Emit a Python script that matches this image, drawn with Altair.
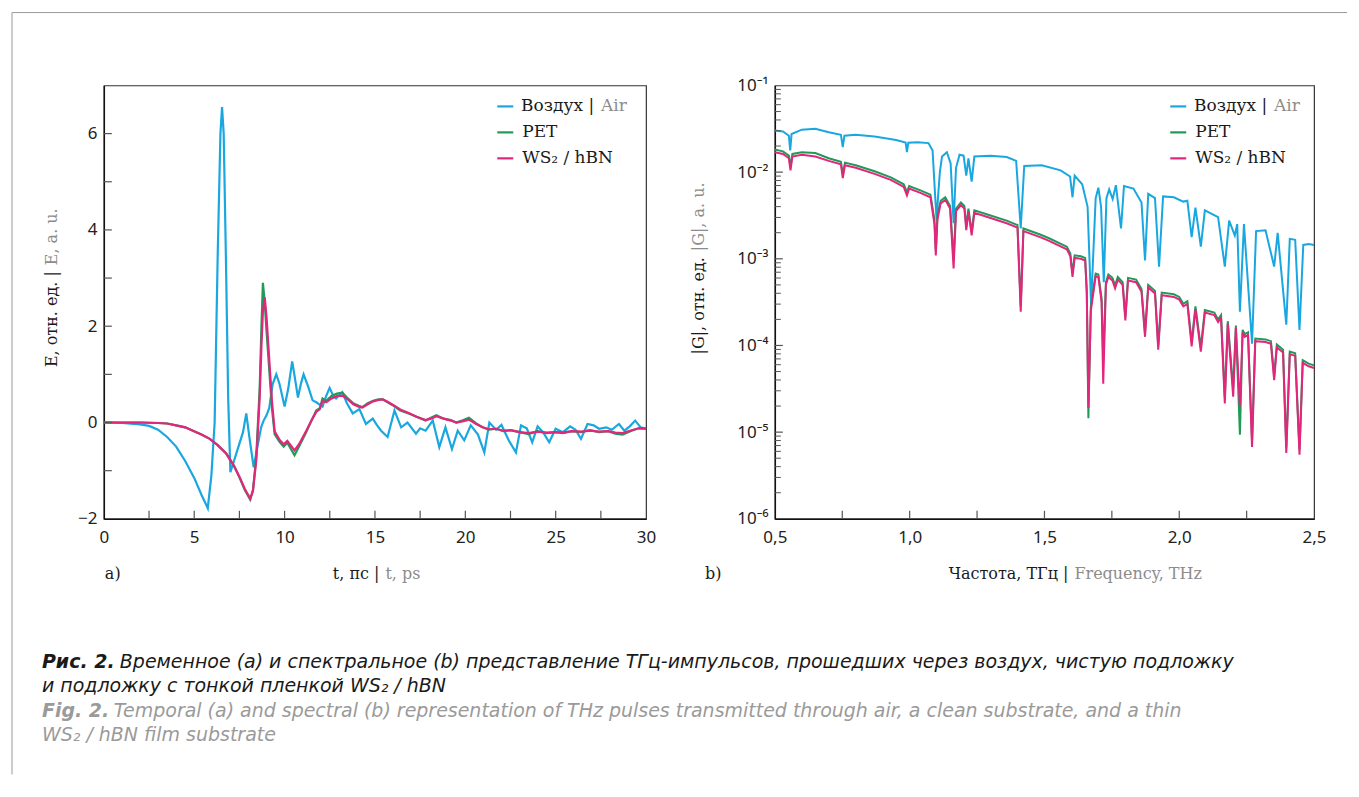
import altair as alt
import pandas as pd
import numpy as np

# ---------------- data ----------------
air_t = [0, 1, 2, 2.5, 3, 3.5, 4, 4.5, 5, 5.4, 5.75, 5.95, 6.13, 6.3, 6.45, 6.54, 6.63, 6.75, 6.88, 7.0,
         7.2, 7.5, 7.7, 7.88, 8.05, 8.29, 8.5, 8.7, 8.84, 9.0, 9.15, 9.34, 9.54, 9.72, 10.0, 10.2, 10.42, 10.58, 10.74, 10.9,
         11.05, 11.3, 11.55, 11.75, 12.1, 12.3, 12.49, 12.7, 12.85, 13.19, 13.45, 13.77, 14.14, 14.5, 14.88, 15.1, 15.34, 15.7, 16.08, 16.45,
         16.8, 17.27, 17.5, 17.8, 18.2, 18.56, 18.9, 19.26, 19.58, 19.94, 20.3, 20.7, 21.05, 21.33, 21.7, 22.0, 22.4, 22.8, 23.08, 23.4,
         23.7, 24.0, 24.3, 24.64, 25.0, 25.4, 25.8, 26.1, 26.4, 26.76, 27.1, 27.4, 27.8, 28.1, 28.5, 28.8, 29.1, 29.4, 29.7, 30]
air_E = [0, -0.01, -0.04, -0.07, -0.15, -0.3, -0.5, -0.8, -1.15, -1.5, -1.78, -1.1, 0.0, 3.5, 6.0, 6.55, 6.0, 3.5, 0.5, -1.03,
         -0.8, -0.44, -0.2, 0.19, -0.3, -0.93, -0.5, -0.1, 0.04, 0.15, 0.3, 0.8, 1.0, 0.8, 0.33, 0.7, 1.27, 0.9, 0.52, 0.8,
         1.0, 0.75, 0.46, 0.42, 0.33, 0.55, 0.72, 0.55, 0.5, 0.63, 0.4, 0.19, 0.28, -0.03, 0.08, -0.05, -0.17, -0.3, 0.25, -0.1,
         0.0, -0.23, -0.12, -0.17, 0.04, -0.51, -0.1, -0.55, -0.17, -0.37, -0.06, -0.25, -0.62, 0.0, -0.15, -0.05, -0.37, -0.62, -0.06, -0.12,
         -0.41, -0.08, -0.2, -0.41, -0.13, -0.2, -0.08, -0.15, -0.34, -0.03, -0.06, -0.13, -0.1, -0.15, -0.03, -0.17, -0.08, 0.04, -0.1, -0.13]

sub_t = [0, 1, 2, 3, 3.5, 4, 4.5, 4.93, 5.4, 5.86, 6.3, 6.78, 7.2, 7.51, 7.8, 8.1, 8.25, 8.43, 8.62, 8.72,
         8.8, 8.9, 9.0, 9.17, 9.3, 9.45, 9.72, 9.95, 10.15, 10.35, 10.55, 10.8, 11.2, 11.5, 11.75, 11.95, 12.1, 12.3, 12.6, 12.9,
         13.2, 13.5, 13.8, 14.1, 14.3, 14.6, 14.9, 15.2, 15.43, 15.7, 15.98, 16.4, 16.9, 17.3, 17.8, 18.1, 18.4, 18.8, 19.2, 19.5,
         19.9, 20.2, 20.6, 20.96, 21.3, 21.7, 22.1, 22.5, 23.0, 23.5, 24.0, 24.5, 25.0, 25.4, 25.9, 26.4, 26.9, 27.4, 27.9, 28.3,
         28.7, 29.2, 29.6, 30]
pet_E = [0, 0, 0, -0.01, -0.02, -0.06, -0.1, -0.17, -0.25, -0.34,
         -0.47, -0.65, -0.9, -1.15, -1.4, -1.6, -1.4, -0.72, 0.7, 2.0,
         2.9, 2.5, 1.9, 1.0, 0.3, -0.24, -0.4, -0.5, -0.42, -0.55,
         -0.68, -0.5, -0.2, 0.05, 0.25, 0.3, 0.5, 0.45, 0.55, 0.6,
         0.62, 0.5, 0.4, 0.35, 0.32, 0.4, 0.45, 0.48, 0.48, 0.42,
         0.36, 0.25, 0.18, 0.12, 0.04, 0.1, 0.15, 0.08, 0.05, 0.0,
         0.05, 0.1, -0.02, -0.1, -0.15, -0.13, -0.18, -0.16, -0.2, -0.24,
         -0.18, -0.22, -0.2, -0.22, -0.18, -0.2, -0.16, -0.2, -0.18, -0.23,
         -0.25, -0.17, -0.12, -0.13]
ws2_E = [0, 0, 0, -0.01, -0.02, -0.06, -0.1, -0.17, -0.25, -0.34,
         -0.47, -0.65, -0.9, -1.13, -1.38, -1.58, -1.42, -0.8, 0.5, 1.6,
         2.3, 2.6, 2.2, 1.2, 0.45, -0.18, -0.36, -0.45, -0.38, -0.48,
         -0.58, -0.45, -0.17, 0.05, 0.22, 0.28, 0.45, 0.42, 0.5, 0.55,
         0.56, 0.48, 0.38, 0.33, 0.31, 0.38, 0.44, 0.47, 0.48, 0.43,
         0.37, 0.27, 0.19, 0.12, 0.05, 0.08, 0.13, 0.08, 0.04, 0.0,
         0.03, 0.06, -0.03, -0.1, -0.14, -0.13, -0.17, -0.16, -0.2, -0.22,
         -0.19, -0.21, -0.2, -0.21, -0.18, -0.19, -0.17, -0.19, -0.18, -0.21,
         -0.22, -0.16, -0.12, -0.12]

# spectra: frequency (THz) and log10 |G|
air_f = [0.50, 0.53, 0.552, 0.557, 0.562, 0.60, 0.65, 0.70, 0.745, 0.752, 0.758, 0.80, 0.87, 0.95, 0.985, 0.99, 0.995, 1.03, 1.07, 1.085,
         1.095, 1.10, 1.105, 1.112, 1.12, 1.138, 1.152, 1.163, 1.172, 1.185, 1.20, 1.21, 1.218, 1.23, 1.24, 1.30, 1.36, 1.395, 1.412, 1.425,
         1.49, 1.56, 1.595, 1.604, 1.612, 1.64, 1.66, 1.673, 1.69, 1.70, 1.71, 1.72, 1.73, 1.74, 1.753, 1.765, 1.784, 1.795, 1.83, 1.86,
         1.873, 1.885, 1.91, 1.925, 1.94, 1.98, 2.015, 2.03, 2.046, 2.06, 2.08, 2.095, 2.144, 2.169, 2.185, 2.206, 2.215, 2.225, 2.24, 2.27,
         2.285, 2.32, 2.352, 2.365, 2.397, 2.41, 2.43, 2.446, 2.46, 2.48, 2.50]
air_lg = [-1.52, -1.53, -1.58, -1.75, -1.56, -1.51, -1.50, -1.54, -1.57, -1.71, -1.58, -1.57, -1.59, -1.63, -1.66, -1.77, -1.66, -1.655, -1.665, -1.75,
          -2.3, -2.55, -2.3, -2.0, -1.82, -1.77, -1.9, -2.59, -1.95, -1.80, -1.81, -2.04, -1.84, -2.11, -1.82, -1.81, -1.826, -1.87, -2.65, -1.93,
          -1.92, -1.98, -2.05, -2.29, -2.04, -2.14, -2.4, -3.53, -2.3, -2.18, -2.4, -3.27, -2.3, -2.2, -2.31, -2.15, -2.65, -2.16, -2.19, -2.35,
          -3.02, -2.25, -2.3, -3.09, -2.28, -2.29, -2.34, -2.33, -2.75, -2.41, -2.86, -2.44, -2.52, -3.09, -2.56, -2.73, -2.6, -3.61, -2.6, -3.98,
          -2.68, -2.67, -3.09, -2.70, -3.76, -2.77, -2.78, -3.82, -2.84, -2.83, -2.84]

sub_f = [0.50, 0.53, 0.552, 0.558, 0.565, 0.60, 0.65, 0.70, 0.745, 0.752, 0.76, 0.80, 0.87, 0.93, 0.978, 0.99, 0.998, 1.04, 1.077, 1.092,
         1.097, 1.103, 1.115, 1.132, 1.15, 1.163, 1.172, 1.19, 1.203, 1.21, 1.218, 1.23, 1.24, 1.30, 1.36, 1.40, 1.412, 1.422, 1.484, 1.515,
         1.583, 1.596, 1.604, 1.612, 1.635, 1.651, 1.657, 1.663, 1.672, 1.69, 1.70, 1.712, 1.718, 1.728, 1.737, 1.752, 1.762, 1.772, 1.79, 1.80,
         1.81, 1.84, 1.86, 1.873, 1.885, 1.91, 1.922, 1.935, 1.98, 2.00, 2.015, 2.03, 2.046, 2.06, 2.08, 2.095, 2.13, 2.144, 2.155, 2.169,
         2.18, 2.20, 2.21, 2.225, 2.235, 2.243, 2.255, 2.27, 2.282, 2.32, 2.34, 2.352, 2.362, 2.385, 2.397, 2.41, 2.43, 2.446, 2.458, 2.48,
         2.50]
ws2_lg = [-1.77, -1.79, -1.84, -1.98, -1.82, -1.80, -1.82, -1.87, -1.91, -2.07, -1.92, -1.95, -2.02, -2.09, -2.17, -2.27, -2.19, -2.24, -2.29, -2.60,
          -2.96, -2.55, -2.36, -2.32, -2.42, -3.11, -2.45, -2.38, -2.42, -2.67, -2.45, -2.73, -2.47, -2.53, -2.59, -2.64, -3.61, -2.68, -2.75, -2.79,
          -2.89, -2.97, -3.21, -2.99, -3.00, -3.02, -3.40, -4.72, -3.60, -3.20, -3.21, -3.50, -4.44, -3.30, -3.21, -3.25, -3.34, -3.24, -3.30, -3.71,
          -3.25, -3.27, -3.38, -3.90, -3.33, -3.40, -4.05, -3.42, -3.44, -3.47, -3.55, -3.52, -4.01, -3.58, -4.07, -3.62, -3.65, -3.73, -3.68, -4.67,
          -3.75, -4.59, -3.80, -4.70, -3.85, -3.90, -3.88, -5.17, -3.95, -3.96, -3.98, -4.40, -4.02, -4.08, -5.24, -4.10, -4.12, -5.26, -4.20, -4.24,
          -4.26]
pet_lg = [-1.74, -1.76, -1.81, -1.94, -1.79, -1.77, -1.78, -1.84, -1.88, -2.03, -1.89, -1.92, -1.99, -2.06, -2.14, -2.23, -2.16, -2.21, -2.26, -2.55,
          -2.90, -2.50, -2.33, -2.29, -2.39, -3.00, -2.42, -2.35, -2.39, -2.63, -2.42, -2.69, -2.44, -2.50, -2.56, -2.61, -3.55, -2.65, -2.72, -2.76,
          -2.86, -2.94, -3.17, -2.96, -2.97, -2.99, -3.36, -4.84, -3.55, -3.17, -3.18, -3.46, -4.16, -3.27, -3.18, -3.22, -3.31, -3.21, -3.27, -3.67,
          -3.22, -3.24, -3.35, -3.85, -3.30, -3.37, -4.00, -3.39, -3.41, -3.44, -3.52, -3.49, -3.96, -3.55, -4.02, -3.59, -3.62, -3.70, -3.65, -4.60,
          -3.72, -4.50, -3.77, -5.03, -3.82, -3.87, -3.85, -5.10, -3.92, -3.93, -3.95, -4.35, -3.99, -4.05, -5.18, -4.07, -4.09, -5.20, -4.17, -4.21,
          -4.23]

left_x_labels = [0, 5, 10, 15, 20, 25, 30]
left_x_ticks = [2.5, 5, 7.5, 10, 12.5, 15, 17.5, 20, 22.5, 25, 27.5]
left_y_labels = [-2, 0, 2, 4, 6]
left_y_ticks = [-1, 0, 1, 2, 3, 4, 5, 6]
right_x_labels = [0.5, 1.0, 1.5, 2.0, 2.5]
right_x_ticks = [0.75, 1.0, 1.25, 1.5, 1.75, 2.0, 2.25]
right_y_labels = [1e-6, 1e-5, 1e-4, 1e-3, 1e-2, 1e-1]
right_y_major = [1e-5, 1e-4, 1e-3, 1e-2]
right_y_minor = [m * 10.0 ** k for k in range(-6, -1) for m in range(2, 10)]

legend_labels = ["Воздух |", "Air", "PET", "WS₂ / hBN"]

# ---------------- styles ----------------
C_AIR, C_PET, C_WS2 = "#19a7e0", "#1f9a57", "#e2267b"
GRAY = "#8c8c8c"
INK = "#1a1a1a"
SERIF = "DejaVu Serif"
SANS = "Noto Sans"
CAP = "DejaVu Sans"
W1, W2, H = 543, 540, 434

air_df = pd.DataFrame({"x": air_t, "y": air_E})
pet_df = pd.DataFrame({"x": sub_t, "y": pet_E})
ws2_df = pd.DataFrame({"x": sub_t, "y": ws2_E})
sair_df = pd.DataFrame({"x": air_f, "y": 10.0 ** np.array(air_lg)})
spet_df = pd.DataFrame({"x": sub_f, "y": 10.0 ** np.array(pet_lg)})
sws2_df = pd.DataFrame({"x": sub_f, "y": 10.0 ** np.array(ws2_lg)})

one = pd.DataFrame({"s": [""]})


def txt(s, x, y, color=INK, size=16, font=SERIF, weight="normal", style="normal", angle=None, align="left"):
    kw = dict(align=align, baseline="middle", font=font, fontSize=size, color=color,
              fontWeight=weight, fontStyle=style)
    if angle is not None:
        kw["angle"] = angle
    return alt.Chart(pd.DataFrame({"s": [s]})).mark_text(**kw).encode(
        text="s:N", x=alt.value(x), y=alt.value(y))


def two_tone(prefix, suffix, jx, jy, size=16, vertical=False, gap=6):
    # black prefix ends at the junction, gray suffix starts just after it
    if vertical:
        return [txt(prefix, jx, jy, size=size, angle=270, align="right"),
                txt(suffix, jx, jy - gap, color=GRAY, size=size, angle=270, align="left")]
    return [txt(prefix, jx, jy, size=size, align="right"),
            txt(suffix, jx + gap, jy, color=GRAY, size=size, align="left")]


def legend(x0):
    layers = []
    rows = [(C_AIR, 21), (C_PET, 47), (C_WS2, 73)]
    for col, yy in rows:
        layers.append(alt.Chart(one).mark_rule(color=col, strokeWidth=2.2).encode(
            x=alt.value(x0), x2=alt.value(x0 + 16), y=alt.value(yy)))
    layers += two_tone(legend_labels[0], legend_labels[1], x0 + 25 + 72, 21, size=17, gap=7)
    layers.append(txt(legend_labels[2], x0 + 25, 47, size=17))
    layers.append(txt(legend_labels[3], x0 + 25, 73, size=17))
    return layers


axis_common = dict(ticks=False, grid=False, title=None, labelFont=SANS, labelFontSize=17,
                   labelColor="#222", domainColor="#111", domainWidth=1.4, labelFlush=False,
                   labelOverlap=False, labelBound=False)

# ---------------- left panel ----------------
XL = alt.X("x:Q", scale=alt.Scale(domain=[0, 30], nice=False, zero=False),
           axis=alt.Axis(values=left_x_labels, labelPadding=11, **axis_common))
YL = alt.Y("y:Q", scale=alt.Scale(domain=[-2, 7], nice=False, zero=False),
           axis=alt.Axis(values=left_y_labels, labelPadding=7, **axis_common))

left_layers = []
for df, col in [(air_df, C_AIR), (pet_df, C_PET), (ws2_df, C_WS2)]:
    left_layers.append(alt.Chart(df).mark_line(color=col, strokeWidth=2.2).encode(x=XL, y=YL))
left_layers.append(alt.Chart(pd.DataFrame({"y": left_y_ticks})).mark_rule(color="#555", strokeWidth=1.2).encode(
    y=YL, x=alt.value(0), x2=alt.value(8)))
left_layers.append(alt.Chart(pd.DataFrame({"x": left_x_ticks})).mark_rule(color="#555", strokeWidth=1.2).encode(
    x=XL, y=alt.value(H), y2=alt.value(H - 8)))
left_layers += legend(394)
left_layers += two_tone("t, пс |", "t, ps", 276, 489)
left_layers += two_tone("Е, отн. ед. |", "Е, a. u.", -52, 186, vertical=True)
left_layers.append(txt("a)", 1, 489))

# caption and frame (placed relative to the left panel)
CAPG = "#9a9a9a"
CS = 19
left_layers += [
    txt("Рис. 2.", -62, 577, size=CS, font=CAP, weight="bold", style="italic"),
    txt("Временное (a) и спектральное (b) представление ТГц-импульсов, прошедших через воздух, чистую подложку",
        16, 577, size=CS, font=CAP, style="italic"),
    txt("и подложку с тонкой пленкой WS₂ / hBN", -62, 601.5, size=CS, font=CAP, style="italic"),
    txt("Fig. 2.", -62, 626, color=CAPG, size=CS, font=CAP, weight="bold", style="italic"),
    txt("Temporal (a) and spectral (b) representation of THz pulses transmitted through air, a clean substrate, and a thin",
        10, 626, color=CAPG, size=CS, font=CAP, style="italic"),
    txt("WS₂ / hBN film substrate", -62, 650.5, color=CAPG, size=CS, font=CAP, style="italic"),
    alt.Chart(one).mark_rule(color="#9a9a9a", strokeWidth=1).encode(
        x=alt.value(-92), x2=alt.value(1245), y=alt.value(-73)),
    alt.Chart(one).mark_rule(color="#9a9a9a", strokeWidth=1).encode(
        x=alt.value(-92), y=alt.value(-73), y2=alt.value(690)),
]

left = alt.layer(*left_layers).properties(
    width=W1, height=H, view=alt.ViewBackground(stroke="#333", strokeWidth=1.2))

# ---------------- right panel ----------------
XR = alt.X("x:Q", scale=alt.Scale(domain=[0.5, 2.5], nice=False, zero=False),
           axis=alt.Axis(values=right_x_labels, labelPadding=11,
                         labelExpr="replace(format(datum.value, '.1f'), '.', ',')", **axis_common))
YR = alt.Y("y:Q", scale=alt.Scale(type="log", domain=[1e-6, 1e-1], nice=False),
           axis=alt.Axis(values=right_y_labels, labelPadding=7,
                         labelExpr="datum.value > 0.05 ? '10⁻¹' : datum.value > 0.005 ? '10⁻²' : "
                                   "datum.value > 0.0005 ? '10⁻³' : datum.value > 0.00005 ? '10⁻⁴' : "
                                   "datum.value > 0.000005 ? '10⁻⁵' : '10⁻⁶'",
                         **axis_common))

right_layers = []
for df, col in [(sair_df, C_AIR), (spet_df, C_PET), (sws2_df, C_WS2)]:
    right_layers.append(alt.Chart(df).mark_line(color=col, strokeWidth=2.0).encode(x=XR, y=YR))
right_layers.append(alt.Chart(pd.DataFrame({"y": right_y_major})).mark_rule(color="#555", strokeWidth=1.2).encode(
    y=YR, x=alt.value(0), x2=alt.value(8)))
right_layers.append(alt.Chart(pd.DataFrame({"y": right_y_minor})).mark_rule(color="#555", strokeWidth=1.0).encode(
    y=YR, x=alt.value(0), x2=alt.value(6)))
right_layers.append(alt.Chart(pd.DataFrame({"x": right_x_ticks})).mark_rule(color="#555", strokeWidth=1.2).encode(
    x=XR, y=alt.value(H), y2=alt.value(H - 8)))
right_layers += legend(396)
right_layers += two_tone("Частота, ТГц |", "Frequency, THz", 294, 489)
right_layers += two_tone("|G|, отн. ед.", "|G|, a. u.", -76, 172, vertical=True)
right_layers.append(txt("b)", -70, 489))

right = alt.layer(*right_layers).properties(
    width=W2, height=H, view=alt.ViewBackground(stroke="#333", strokeWidth=1.2))

chart = alt.hconcat(left, right, spacing=129, bounds="flush").properties(
    padding=2, background="white"
).configure_view(stroke="transparent")

chart.save("out.html", embed_options={"renderer": "svg", "actions": False})
